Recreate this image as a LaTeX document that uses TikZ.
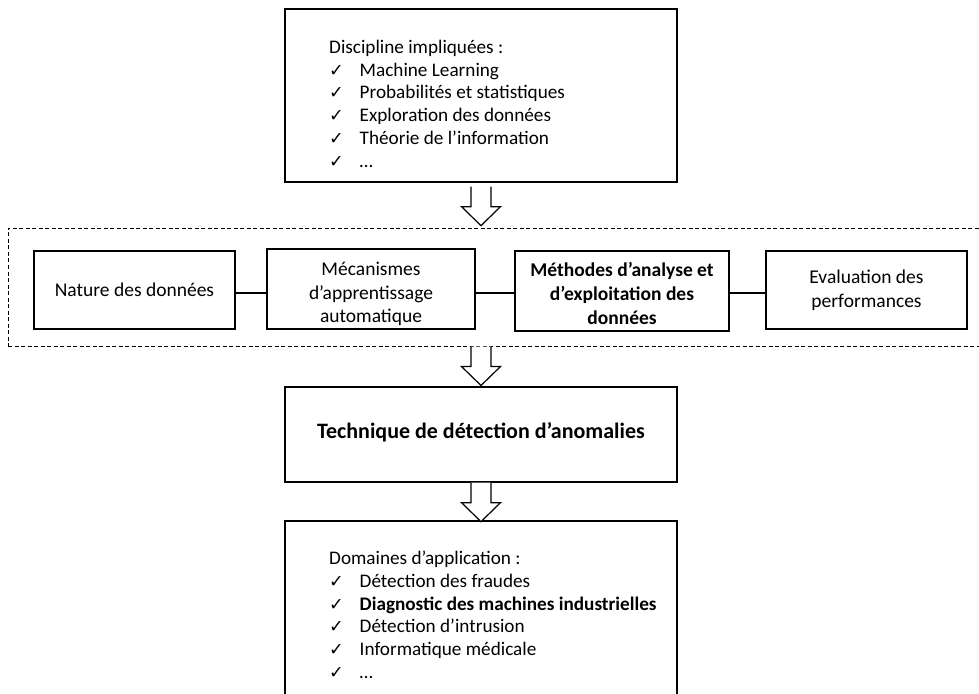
\documentclass[tikz,border=0pt]{standalone}
\usepackage{fontspec}
\setmainfont{Carlito}
\newfontfamily\symfont{DejaVu Sans}
\usetikzlibrary{calc}
\newcommand{\chk}{\makebox[30.5pt][l]{\symfont\fontsize{17.5}{17.5}\selectfont ✓}}
\begin{document}
\begin{tikzpicture}[x=1pt,y=-1pt,
  box/.style={draw=black, line width=1.3pt, inner sep=0pt, fill=white},
  dashedbox/.style={draw=black, line width=1pt, dash pattern=on 4pt off 2.5pt, inner sep=0pt},
  listtext/.style={font=\fontsize{19.2}{22.7}\selectfont, align=left, inner sep=0pt, anchor=north west},
  midtext/.style={font=\fontsize{19.5}{23.8}\selectfont, align=center, inner sep=0pt},
  conn/.style={draw=black, line width=1.3pt},
  hollowarrow/.pic={\draw[line width=1.2pt, fill=white, line join=miter]
     (-10,0) -- (-10,20) -- (-19.5,20) -- (0,39) -- (19.5,20) -- (10,20) -- (10,0);}
  ]
\useasboundingbox (0,0) rectangle (979,693);
\clip (0,0) rectangle (979,693);
\fill[white] (0,0) rectangle (979,693);

% top box
\node[box, minimum width=392pt, minimum height=173pt] (disc) at (481,95.5) {};
\node[listtext] (disctext) at (329,40) {Discipline impliquées :\\
\chk Machine Learning\\
\chk Probabilités et statistiques\\
\chk Exploration des données\\
\chk Théorie de l’information\\
\chk …};

% dashed group
\node[dashedbox, minimum width=982pt, minimum height=118pt] (group) at (499,287) {};

% middle boxes
\node[box, minimum width=201pt, minimum height=78pt] (n1) at (134.5,290) {};
\node[box, minimum width=208pt, minimum height=80pt] (n2) at (371,289) {};
\node[box, minimum width=214pt, minimum height=80pt] (n3) at (622,291) {};
\node[box, minimum width=201pt, minimum height=78pt] (n4) at (866.5,290) {};

\node[midtext] (n1t) at (n1.center) {Nature des données};
\node[midtext] (n2t) at ([yshift=-5pt]n2.center) {Mécanismes\\ d’apprentissage\\ automatique};
\node[midtext, font=\fontsize{19.5}{23.8}\selectfont\bfseries] (n3t) at ([yshift=-2.5pt]n3.center) {Méthodes d’analyse et\\ d’exploitation des\\ données};
\node[midtext] (n4t) at (n4.center) {Evaluation des\\ performances};

\draw[conn] ([yshift=-3pt]n1.east) -- ([yshift=-3pt]n1.east -| n2.west);
\draw[conn] ([yshift=-2pt]n3.west -| n2.east) -- ([yshift=-2pt]n3.west);
\draw[conn] ([yshift=-2pt]n3.east) -- ([yshift=-2pt]n3.east -| n4.west);

% technique box
\node[box, minimum width=392pt, minimum height=95pt] (tech) at (481,434.5) {};
\node[inner sep=0pt, font=\fontsize{22}{26}\selectfont\bfseries] (techtext) at (481,432) {Technique de détection d’anomalies};

% bottom box
\node[box, minimum width=392pt, minimum height=179pt] (dom) at (481,610.5) {};
\node[listtext] (domtext) at (329,551) {Domaines d’application :\\
\chk Détection des fraudes\\
\chk \textbf{Diagnostic des machines industrielles}\\
\chk Détection d’intrusion\\
\chk Informatique médicale\\
\chk …};

% hollow arrows
\pic at ([yshift=-4pt]disc.south) {hollowarrow};
\pic at (disc.south |- group.south) {hollowarrow};
\pic at (tech.south) {hollowarrow};
\end{tikzpicture}
\end{document}
